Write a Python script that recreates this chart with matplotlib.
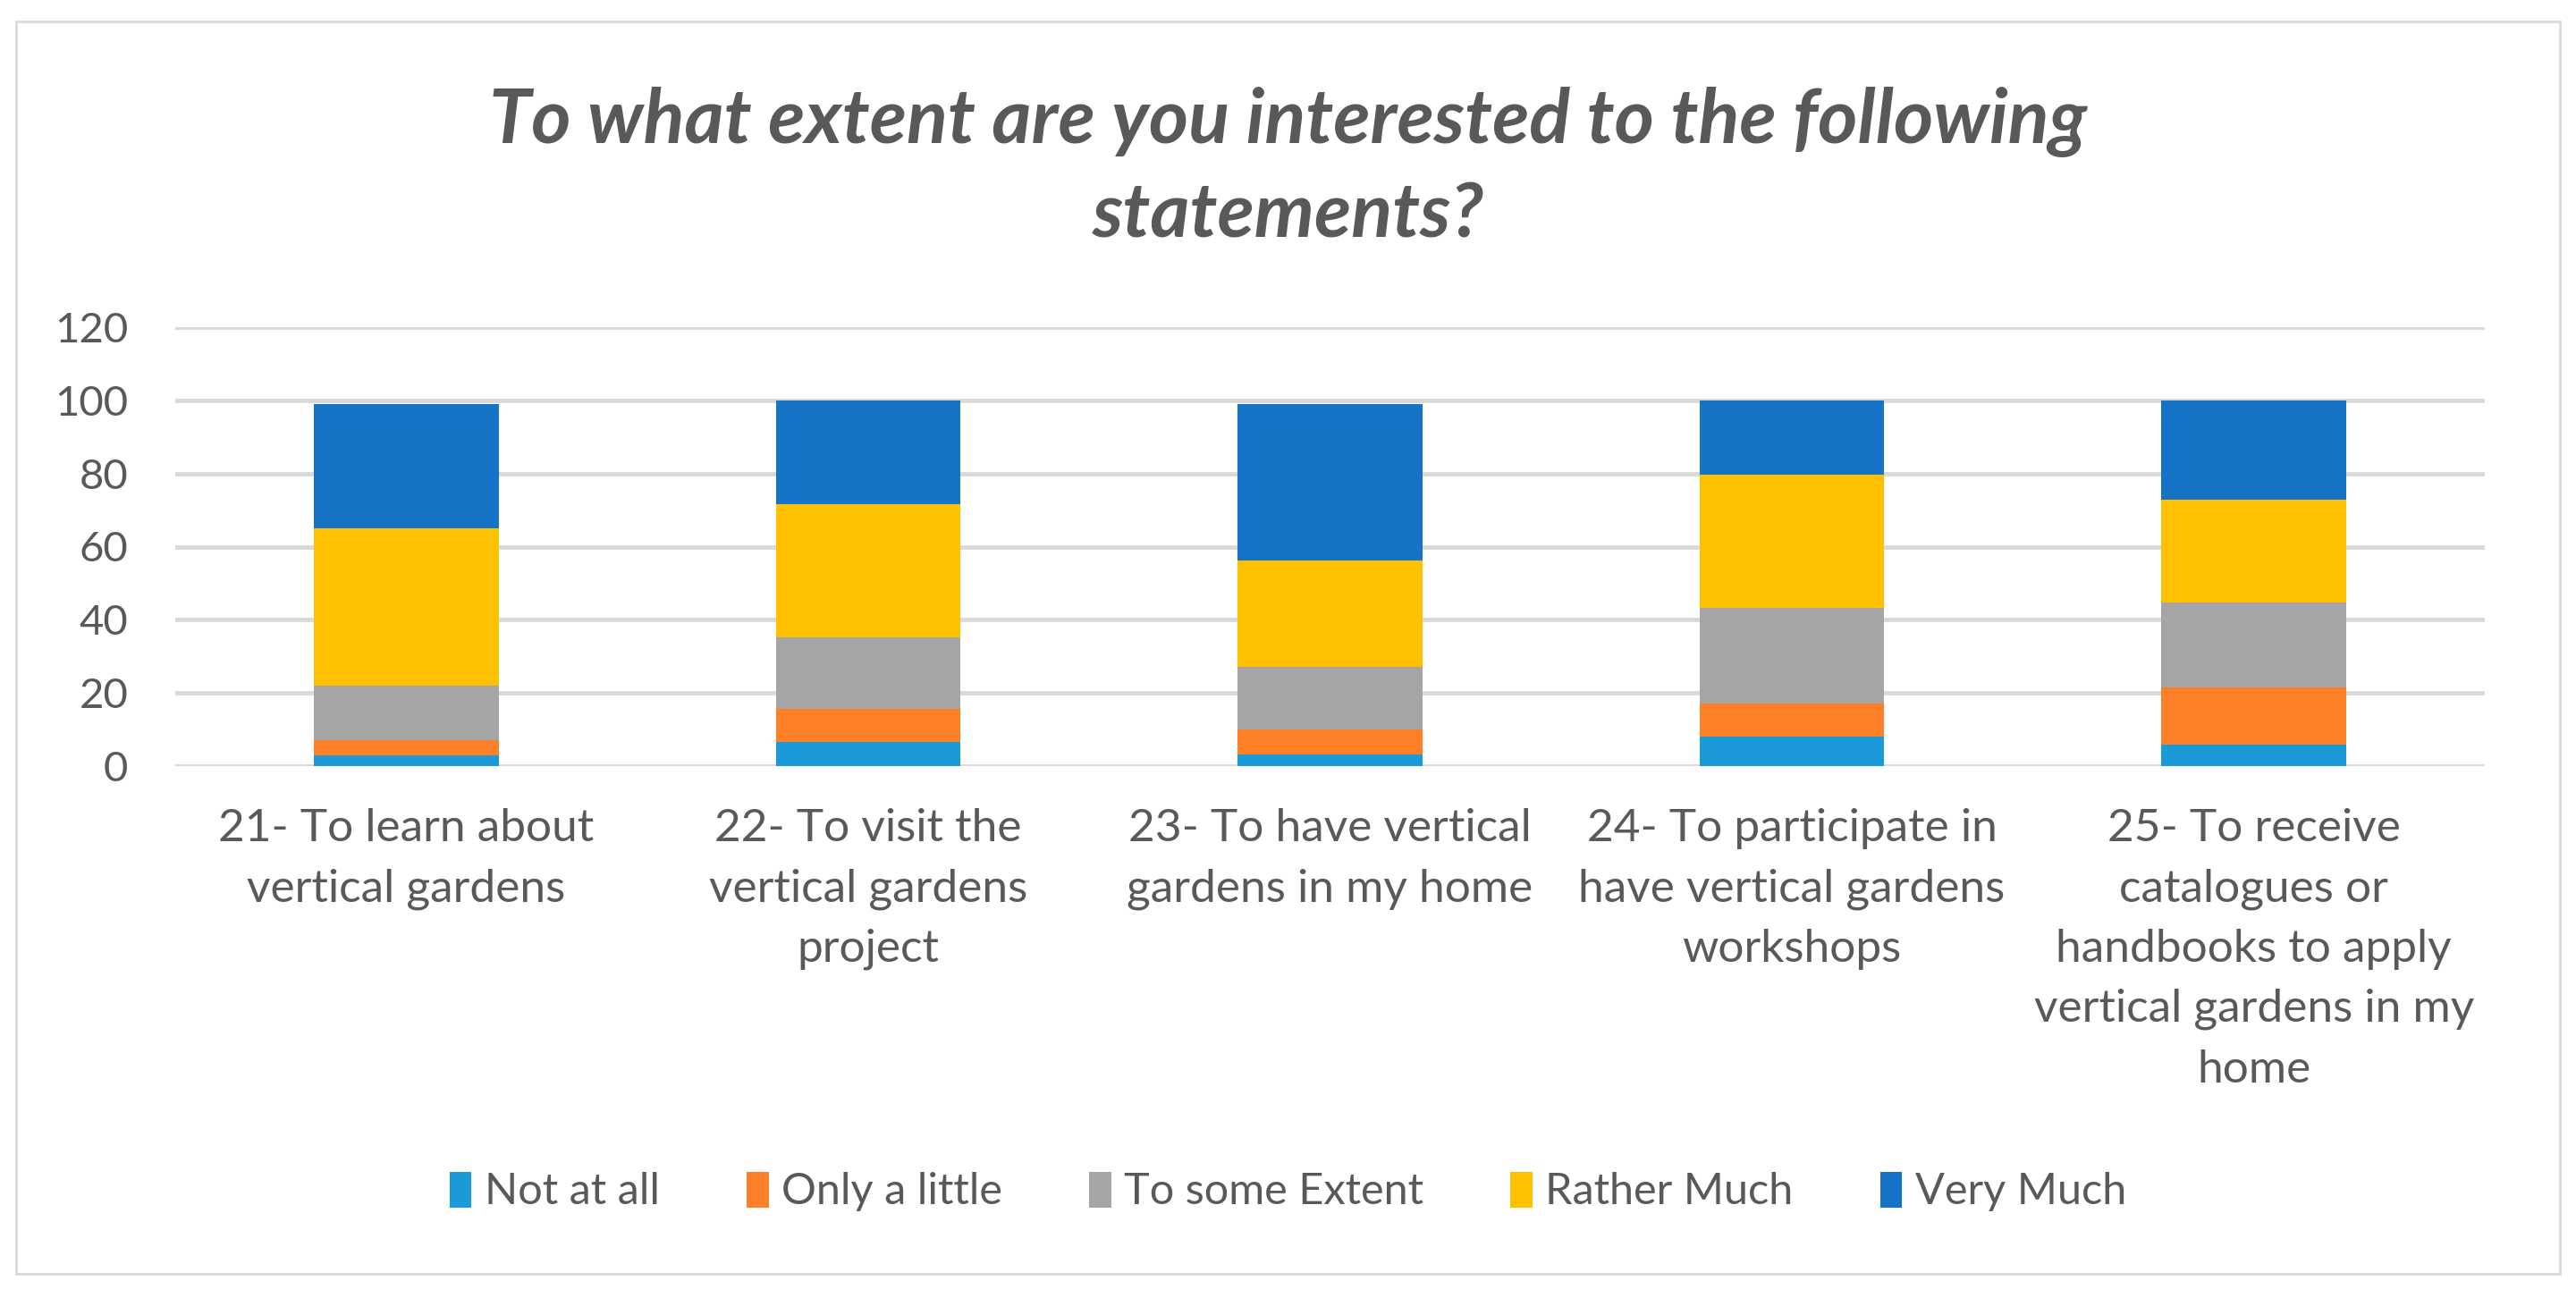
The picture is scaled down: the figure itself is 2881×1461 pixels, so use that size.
import numpy as np
import matplotlib.pyplot as plt
from matplotlib.patches import Rectangle

# data (percent)
categories = ["21- To learn about\nvertical gardens",
              "22- To visit the\nvertical gardens\nproject",
              "23- To have vertical\ngardens in my home",
              "24- To participate in\nhave vertical gardens\nworkshops",
              "25- To receive\ncatalogues or\nhandbooks to apply\nvertical gardens in my\nhome"]
series_names = ["Not at all", "Only a little", "To some Extent", "Rather Much", "Very Much"]
not_at_all = [3, 6.6, 3.1, 8.1, 5.9]
only_little = [4, 9.1, 6.8, 9.1, 15.7]
some_extent = [15, 19.4, 17.2, 26, 23.2]
rather_much = [43, 36.5, 29.1, 36.5, 28.1]
very_much = [34, 28.4, 42.9, 20.3, 27.1]
yticks = [0, 20, 40, 60, 80, 100, 120]

colors = ["#1A9AD8", "#FF7F27", "#A5A5A5", "#FFC000", "#1674C8"]
text_col = "#595959"
font = "Lato"

fig = plt.figure(figsize=(28.81, 14.61), dpi=100)
fig.patches.append(Rectangle((18 / 2881, 1 - 1425 / 1461), (2863 - 18) / 2881, (1425 - 24) / 1461,
                             transform=fig.transFigure, fill=False, edgecolor="#D9D9D9", linewidth=2))

ax = fig.add_axes([196 / 2881, 1 - 857 / 1461, (2779 - 196) / 2881, (857 - 366) / 1461])

x = np.arange(len(categories))
bottom = np.zeros(len(categories))
for name, vals, c in zip(series_names, [not_at_all, only_little, some_extent, rather_much, very_much], colors):
    ax.bar(x, vals, 0.4, bottom=bottom, color=c, label=name, zorder=3)
    bottom += np.array(vals)

ax.set_xlim(-0.5, len(categories) - 0.5)
ax.set_ylim(0, 120)
ax.set_yticks(yticks)
ax.yaxis.grid(True, color="#D9D9D9", linewidth=3.5, zorder=0)
ax.set_axisbelow(True)
for s in ax.spines.values():
    s.set_visible(False)
ax.tick_params(axis="y", length=0, pad=38, labelsize=34, labelcolor=text_col)
ax.tick_params(axis="x", length=0, pad=34)
ax.set_xticks(x)
ax.set_xticklabels(categories, fontsize=37, color=text_col, linespacing=1.57, va="top")
for lab in ax.get_xticklabels() + ax.get_yticklabels():
    lab.set_fontfamily(font)

fig.text(0.5, 1 - 189 / 1461, "To what extent are you interested to the following\nstatements?",
         ha="center", va="center", fontsize=61, fontweight="bold", style="italic",
         color=text_col, family=font, linespacing=1.42)

leg = ax.legend(loc="center", bbox_to_anchor=(0.5, 1 - 1333 / 1461), bbox_transform=fig.transFigure,
                ncol=5, frameon=False, handlelength=0.5, handleheight=0.9, handletextpad=0.3,
                columnspacing=2.0, prop={"family": font, "size": 35})
for t in leg.get_texts():
    t.set_color(text_col)

fig.savefig("out.png", dpi=100)
